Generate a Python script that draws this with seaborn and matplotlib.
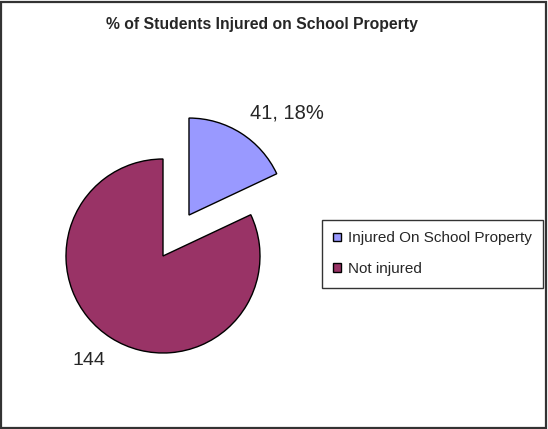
import matplotlib
matplotlib.use("Agg")
import matplotlib.pyplot as plt
from matplotlib.patches import Rectangle
import seaborn as sns

# data
categories = ["Injured On School Property", "Not injured"]
counts = [41, 144]
shares = [18, 82]          # slice sizes as shown (percent)
colors = ["#9999FF", "#993366"]

sns.set_theme(style="white")
plt.rcParams['font.family'] = ['Liberation Sans', 'DejaVu Sans']

W, H = 548, 429
fig = plt.figure(figsize=(W / 100, H / 100), dpi=100)

# pie axes: centre at px (163, 256), radius 97 px
cx, cy, r = 163, 256, 97
x0, x1, ytop, ybot = 40, 300, 100, 400
ax = fig.add_axes([x0 / W, (H - ybot) / H, (x1 - x0) / W, (ybot - ytop) / H])
wedges, _ = ax.pie(shares, colors=colors, startangle=90, counterclock=False,
                   explode=[0.5, 0], radius=1,
                   wedgeprops=dict(edgecolor="black", linewidth=1))
ax.set_xlim((x0 - cx) / r, (x1 - cx) / r)
ax.set_ylim(-(ybot - cy) / r, (cy - ytop) / r)
ax.set_aspect("equal")
ax.axis("off")

ax.text(1.28, 1.47, f"{counts[0]}, {shares[0]}%", fontsize=14.5,
        ha="center", va="center")
ax.text(-0.76, -1.08, f"{counts[1]}", fontsize=14, ha="center", va="center")

fig.text(262 / W, 1 - 24 / H, "% of Students Injured on School Property",
         fontsize=11.3, fontweight="bold", ha="center", va="center")

leg = ax.legend(wedges, categories, loc="upper left",
                bbox_to_anchor=(322 / W, 1 - 220 / H),
                bbox_transform=fig.transFigure, borderaxespad=0,
                fontsize=11, frameon=True, fancybox=False, shadow=False,
                handlelength=0.5, handleheight=0.5, handletextpad=0.45,
                labelspacing=1.1, borderpad=0.75)
leg.get_frame().set_edgecolor("black")
leg.get_frame().set_linewidth(1)

fig.patches.append(Rectangle((1 / W, 1 / H), 1 - 3 / W, 1 - 3 / H,
                             transform=fig.transFigure, fill=False,
                             edgecolor="#333333", linewidth=1.6))

fig.savefig("out.png", dpi=100)
